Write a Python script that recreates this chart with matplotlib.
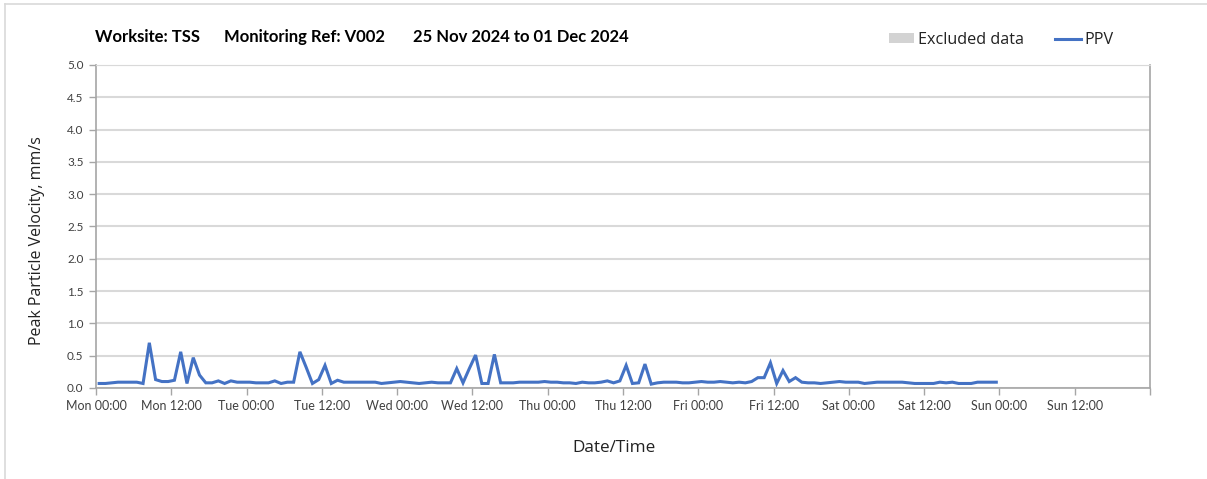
import numpy as np
import matplotlib
matplotlib.use("Agg")
import matplotlib.pyplot as plt
from matplotlib.lines import Line2D
from matplotlib.patches import Patch

# Hourly PPV readings (mm/s), one list per day, Mon 25 Nov .. Sat 30 Nov
mon = [0.07, 0.07, 0.08, 0.09, 0.09, 0.09, 0.09, 0.07, 0.70, 0.13, 0.10, 0.10,
       0.12, 0.56, 0.07, 0.47, 0.20, 0.08, 0.08, 0.11, 0.07, 0.11, 0.09, 0.09]
tue = [0.09, 0.08, 0.08, 0.08, 0.11, 0.07, 0.09, 0.09, 0.56, 0.32, 0.07, 0.13,
       0.35, 0.07, 0.12, 0.09, 0.09, 0.09, 0.09, 0.09, 0.09, 0.07, 0.08, 0.09]
wed = [0.10, 0.09, 0.08, 0.07, 0.08, 0.09, 0.08, 0.08, 0.08, 0.30, 0.08, 0.30,
       0.51, 0.07, 0.07, 0.52, 0.08, 0.08, 0.08, 0.09, 0.09, 0.09, 0.09, 0.10]
thu = [0.09, 0.09, 0.08, 0.08, 0.07, 0.09, 0.08, 0.08, 0.09, 0.11, 0.08, 0.11,
       0.35, 0.07, 0.08, 0.37, 0.06, 0.08, 0.09, 0.09, 0.09, 0.08, 0.08, 0.09]
fri = [0.10, 0.09, 0.09, 0.10, 0.09, 0.08, 0.09, 0.08, 0.10, 0.16, 0.16, 0.39,
       0.07, 0.27, 0.10, 0.16, 0.09, 0.08, 0.08, 0.07, 0.08, 0.09, 0.10, 0.09]
sat = [0.09, 0.09, 0.07, 0.08, 0.09, 0.09, 0.09, 0.09, 0.09, 0.08, 0.07, 0.07,
       0.07, 0.07, 0.09, 0.08, 0.09, 0.07, 0.07, 0.07, 0.09, 0.09, 0.09, 0.09]

ppv = mon + tue + wed + thu + fri + sat
hours = np.arange(len(ppv)) + 0.5   # readings sit at the middle of each hour

tick_labels = ["Mon 00:00", "Mon 12:00", "Tue 00:00", "Tue 12:00",
               "Wed 00:00", "Wed 12:00", "Thu 00:00", "Thu 12:00",
               "Fri 00:00", "Fri 12:00", "Sat 00:00", "Sat 12:00",
               "Sun 00:00", "Sun 12:00", ""]

W, H = 1207, 479
blue = "#4472C4"
tick_font = "Lato"
label_font = "Open Sans"

fig = plt.figure(figsize=(W / 100, H / 100), dpi=100)
ax = fig.add_axes([96 / W, 1 - 388 / H, (1150 - 96) / W, (388 - 65) / H])

ax.plot(hours, ppv, color=blue, lw=2.2, solid_joinstyle="miter")

# axes
ax.set_xlim(0, 168)
ax.set_ylim(0, 5.0)
ax.set_yticks(np.arange(0, 5.01, 0.5))
ax.set_yticklabels(["%.1f" % v for v in np.arange(0, 5.01, 0.5)])
ax.set_xticks(np.arange(0, 169, 12))
ax.set_xticklabels(tick_labels)
ax.set_xticks(np.arange(0, 169, 24), minor=True)

ax.grid(axis="y", color="#d9d9d9", lw=1.5)
ax.grid(axis="x", which="minor", color="#d9d9d9", lw=1.0)
ax.set_axisbelow(True)
ax.tick_params(axis="x", which="minor", length=0)
ax.tick_params(axis="both", which="major", length=5, width=1, color="#a6a6a6",
               labelcolor="#404040", pad=4)

for lab in ax.get_xticklabels():
    lab.set_fontfamily(tick_font)
    lab.set_fontsize(9)
for lab in ax.get_yticklabels():
    lab.set_fontfamily(tick_font)
    lab.set_fontsize(8.5)

for s in ["left", "bottom", "right"]:
    ax.spines[s].set_color("#a6a6a6")
    ax.spines[s].set_linewidth(1.2)
ax.spines["top"].set_color("#d9d9d9")

# labels and title
fig.text(37 / W, 1 - 241 / H, "Peak Particle Velocity, mm/s", rotation=90,
         ha="center", va="center", fontsize=11.5, family=label_font, color="#222222")
fig.text(614 / W, 1 - 448 / H, "Date/Time", ha="center", va="center",
         fontsize=12.3, family=label_font, color="#222222")

fig.text(95 / W, 1 - 37 / H, "Worksite: TSS", ha="left", va="center",
         fontsize=12, fontweight="bold", family=tick_font)
fig.text(224 / W, 1 - 37 / H, "Monitoring Ref: V002", ha="left", va="center",
         fontsize=12, fontweight="bold", family=tick_font)
fig.text(413 / W, 1 - 37 / H, "25 Nov 2024 to 01 Dec 2024", ha="left", va="center",
         fontsize=12, fontweight="bold", family=tick_font)

# legend
handles = [Patch(facecolor="#d3d3d3", edgecolor="none"),
           Line2D([0], [0], color=blue, lw=2.2)]
fig.legend(handles, ["Excluded data", "PPV"], loc="center left",
           bbox_to_anchor=(874 / W, 1 - 40 / H), ncol=2, frameon=False,
           handlelength=1.6, handleheight=0.6, handletextpad=0.25,
           columnspacing=1.9, prop={"family": label_font, "size": 11.6},
           labelcolor="#222222")

# outer frame (top and left edges visible)
fig.add_artist(Line2D([5 / W, 5 / W], [0, 1 - 4 / H], color="#d9d9d9", lw=1.2))
fig.add_artist(Line2D([5 / W, 1], [1 - 4 / H, 1 - 4 / H], color="#d9d9d9", lw=1.2))

fig.savefig("out.png", dpi=100)
